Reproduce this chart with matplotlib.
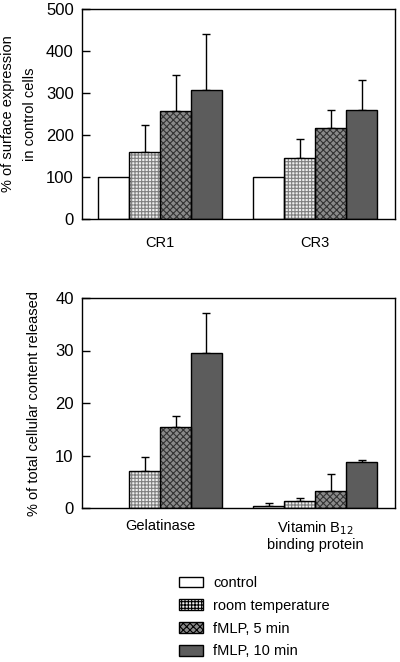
import matplotlib
matplotlib.use("Agg")
import matplotlib.pyplot as plt
from matplotlib.patches import Patch
import numpy as np

plt.rcParams['font.family'] = ['Liberation Sans', 'DejaVu Sans']
plt.rcParams['font.size'] = 10.5
plt.rcParams['hatch.linewidth'] = 0.8

series = ["control", "room temperature", "fMLP, 5 min", "fMLP, 10 min"]

top_groups = ["CR1", "CR3"]
top_vals = {"control": [100, 100], "room temperature": [160, 145],
            "fMLP, 5 min": [258, 217], "fMLP, 10 min": [307, 260]}
top_err = {"control": [100, 100], "room temperature": [225, 191],
           "fMLP, 5 min": [343, 260], "fMLP, 10 min": [440, 330]}

bot_groups = ["Gelatinase", "Vitamin B$_{12}$\nbinding protein"]
bot_vals = {"control": [0, 0.3], "room temperature": [7.0, 1.3],
            "fMLP, 5 min": [15.4, 3.3], "fMLP, 10 min": [29.5, 8.7]}
bot_err = {"control": [0, 0.9], "room temperature": [9.8, 1.9],
           "fMLP, 5 min": [17.5, 6.4], "fMLP, 10 min": [37.2, 9.2]}

styles = {
    "control": dict(fc="white", hatch=None, hc="black"),
    "room temperature": dict(fc="#eeeeee", hatch="+++++", hc="#808080"),
    "fMLP, 5 min": dict(fc="#8a8a8a", hatch="xxxxx", hc="#333333"),
    "fMLP, 10 min": dict(fc="#5c5c5c", hatch=None, hc="#5c5c5c"),
}

W, H = 400, 662
fig = plt.figure(figsize=(W / 100, H / 100), dpi=100)


def axrect(l, t, r, b):
    return [l / W, 1 - b / H, (r - l) / W, (b - t) / H]


ax1 = fig.add_axes(axrect(82, 9, 395, 219))
ax2 = fig.add_axes(axrect(82, 298, 395, 508))

bw = 31 / 313 * 10.1  # bar width in data units
xmax = 10.1
g_left = [(98 - 82) / 313 * xmax, (253 - 82) / 313 * xmax]


def draw(ax, vals, errs, ymax, yticks):
    for gi in range(2):
        for si, s in enumerate(series):
            v = vals[s][gi]
            e = errs[s][gi]
            x = g_left[gi] + si * bw + bw / 2
            st = styles[s]
            if v <= 0:
                continue
            ax.bar(x, v, width=bw, color=st["fc"], edgecolor=st["hc"],
                   hatch=st["hatch"], linewidth=0, zorder=2)
            ax.bar(x, v, width=bw, fill=False, edgecolor="black",
                   linewidth=1.0, zorder=3)
            if e > v:
                ax.errorbar(x, v, yerr=[[0], [e - v]], fmt="none",
                            ecolor="black", elinewidth=1.0, capsize=3,
                            capthick=1.0, zorder=1)
    ax.set_xlim(0, xmax)
    ax.set_ylim(0, ymax)
    ax.set_yticks(yticks)
    ax.tick_params(axis="y", direction="in", length=6, width=1, pad=6,
                   labelsize=12)
    ax.tick_params(axis="x", length=0)
    for sp in ax.spines.values():
        sp.set_linewidth(1.0)
    centers = [g + 2 * bw for g in g_left]
    return centers


c1 = draw(ax1, top_vals, top_err, 500, [0, 100, 200, 300, 400, 500])
ax1.set_xticks(c1)
ax1.set_xticklabels(top_groups)
ax1.tick_params(axis="x", pad=12, labelsize=10.5)
ax1.set_ylabel("% of surface expression\nin control cells", fontsize=10.5,
               labelpad=6, linespacing=1.8)

c2 = draw(ax2, bot_vals, bot_err, 40, [0, 10, 20, 30, 40])
ax2.set_xticks(c2)
ax2.set_xticklabels(bot_groups, va="top", linespacing=1.15)
ax2.tick_params(axis="x", pad=8, labelsize=10.5)
ax2.set_ylabel("% of total cellular content released", fontsize=10.5,
               labelpad=10)

handles = [Patch(facecolor=styles[s]["fc"], edgecolor="black",
                 hatch=styles[s]["hatch"], linewidth=1.0) for s in series]
leg = fig.legend(handles, series, loc="upper left",
                 bbox_to_anchor=(166 / W, 1 - 563 / H), frameon=False,
                 handlelength=1.65, handleheight=0.75, labelspacing=0.6,
                 handletextpad=0.7, fontsize=10.5)

fig.savefig("out.png", dpi=100)
